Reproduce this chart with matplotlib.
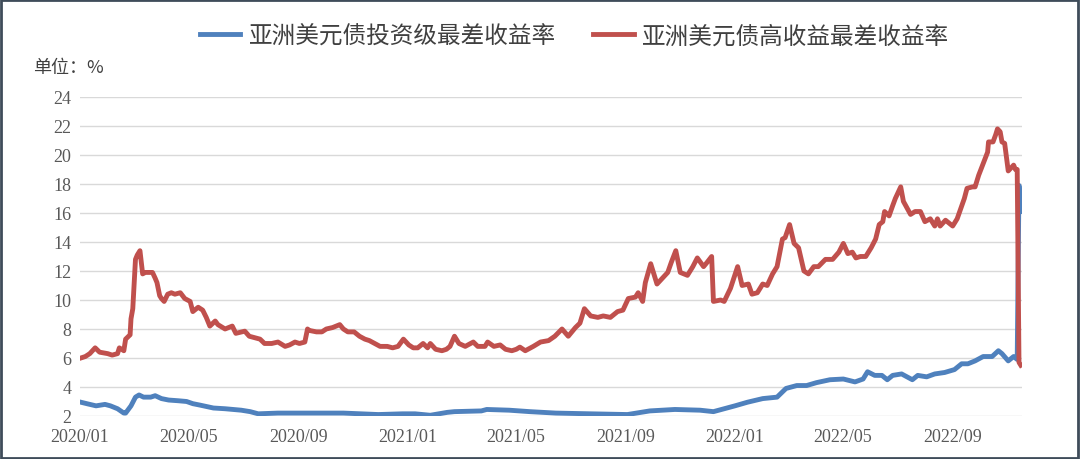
import matplotlib
matplotlib.use("Agg")
import matplotlib.pyplot as plt
import pandas as pd
from matplotlib.patches import Rectangle

# ---------------- data ----------------
ig_dates = ["2020-01-02", "2020-01-10", "2020-01-19", "2020-01-29", "2020-02-04", "2020-02-12",
            "2020-02-19", "2020-02-21", "2020-02-27", "2020-03-03", "2020-03-07", "2020-03-12",
            "2020-03-20", "2020-03-25", "2020-04-01", "2020-04-09", "2020-04-20", "2020-04-29",
            "2020-05-06", "2020-05-14", "2020-05-29", "2020-06-11", "2020-06-29", "2020-07-09",
            "2020-07-18", "2020-08-09", "2020-09-08", "2020-09-14", "2020-10-21", "2020-11-29",
            "2020-12-26", "2021-01-09", "2021-01-26", "2021-02-14", "2021-02-22", "2021-03-24",
            "2021-03-30", "2021-04-24", "2021-05-17", "2021-06-15", "2021-07-24", "2021-09-03",
            "2021-09-28", "2021-10-26", "2021-11-23", "2021-12-08", "2022-01-01", "2022-01-15",
            "2022-02-01", "2022-02-17", "2022-02-27", "2022-03-11", "2022-03-22", "2022-04-02",
            "2022-04-17", "2022-05-02", "2022-05-15", "2022-05-24", "2022-05-29", "2022-06-06",
            "2022-06-14", "2022-06-20", "2022-06-26", "2022-07-06", "2022-07-18", "2022-07-24",
            "2022-08-03", "2022-08-12", "2022-08-23", "2022-09-03", "2022-09-11", "2022-09-18",
            "2022-09-26", "2022-10-05", "2022-10-15", "2022-10-22", "2022-10-26", "2022-11-02",
            "2022-11-08", "2022-11-12", "2022-11-14", "2022-11-16"]
ig_values = [2.95, 2.83, 2.70, 2.80, 2.70, 2.50,
             2.20, 2.20, 2.70, 3.30, 3.45, 3.30,
             3.30, 3.40, 3.20, 3.10, 3.05, 3.00,
             2.85, 2.75, 2.55, 2.50, 2.40, 2.30,
             2.15, 2.20, 2.20, 2.20, 2.20, 2.10,
             2.15, 2.15, 2.05, 2.25, 2.30, 2.35,
             2.45, 2.40, 2.30, 2.20, 2.15, 2.10,
             2.35, 2.45, 2.40, 2.30, 2.70, 2.95,
             3.20, 3.30, 3.90, 4.10, 4.10, 4.30,
             4.50, 4.55, 4.35, 4.55, 5.05, 4.80,
             4.80, 4.50, 4.80, 4.90, 4.50, 4.80,
             4.70, 4.90, 5.00, 5.20, 5.60, 5.60,
             5.80, 6.10, 6.10, 6.50, 6.30, 5.80,
             6.10, 5.90, 17.90, 16.10]

hy_dates = ["2020-01-02", "2020-01-07", "2020-01-12", "2020-01-18", "2020-01-23", "2020-02-01",
            "2020-02-06", "2020-02-12", "2020-02-14", "2020-02-19", "2020-02-21", "2020-02-26",
            "2020-02-27", "2020-02-29", "2020-03-03", "2020-03-05", "2020-03-08", "2020-03-11",
            "2020-03-14", "2020-03-18", "2020-03-22", "2020-03-25", "2020-03-27", "2020-03-30",
            "2020-04-01", "2020-04-04", "2020-04-08", "2020-04-12", "2020-04-16", "2020-04-22",
            "2020-04-27", "2020-05-03", "2020-05-06", "2020-05-12", "2020-05-17", "2020-05-21",
            "2020-05-25", "2020-05-31", "2020-06-03", "2020-06-11", "2020-06-19", "2020-06-23",
            "2020-07-03", "2020-07-08", "2020-07-14", "2020-07-20", "2020-07-25", "2020-08-02",
            "2020-08-09", "2020-08-17", "2020-08-22", "2020-08-28", "2020-09-02", "2020-09-08",
            "2020-09-11", "2020-09-13", "2020-09-21", "2020-09-27", "2020-10-02", "2020-10-09",
            "2020-10-17", "2020-10-21", "2020-10-26", "2020-11-02", "2020-11-08", "2020-11-14",
            "2020-11-19", "2020-11-25", "2020-12-01", "2020-12-09", "2020-12-15", "2020-12-21",
            "2020-12-27", "2021-01-02", "2021-01-07", "2021-01-12", "2021-01-18", "2021-01-23",
            "2021-01-26", "2021-02-01", "2021-02-08", "2021-02-13", "2021-02-17", "2021-02-22",
            "2021-02-27", "2021-03-06", "2021-03-15", "2021-03-20", "2021-03-28", "2021-03-31",
            "2021-04-07", "2021-04-14", "2021-04-20", "2021-04-27", "2021-05-02", "2021-05-06",
            "2021-05-12", "2021-05-21", "2021-05-29", "2021-06-07", "2021-06-14", "2021-06-22",
            "2021-06-29", "2021-07-07", "2021-07-12", "2021-07-17", "2021-07-24", "2021-08-01",
            "2021-08-07", "2021-08-15", "2021-08-23", "2021-08-29", "2021-09-04", "2021-09-12",
            "2021-09-15", "2021-09-20", "2021-09-23", "2021-09-29", "2021-10-06", "2021-10-12",
            "2021-10-18", "2021-10-22", "2021-10-27", "2021-11-01", "2021-11-09", "2021-11-15",
            "2021-11-20", "2021-11-27", "2021-12-01", "2021-12-06", "2021-12-08", "2021-12-16",
            "2021-12-20", "2021-12-27", "2022-01-04", "2022-01-09", "2022-01-16", "2022-01-20",
            "2022-01-26", "2022-02-01", "2022-02-06", "2022-02-12", "2022-02-17", "2022-02-23",
            "2022-02-26", "2022-03-03", "2022-03-08", "2022-03-13", "2022-03-19", "2022-03-24",
            "2022-03-30", "2022-04-04", "2022-04-12", "2022-04-20", "2022-04-27", "2022-05-02",
            "2022-05-07", "2022-05-12", "2022-05-16", "2022-05-21", "2022-05-27", "2022-06-02",
            "2022-06-07", "2022-06-11", "2022-06-15", "2022-06-17", "2022-06-22", "2022-06-26",
            "2022-06-29", "2022-07-05", "2022-07-08", "2022-07-16", "2022-07-21", "2022-07-27",
            "2022-08-01", "2022-08-07", "2022-08-12", "2022-08-15", "2022-08-18", "2022-08-24",
            "2022-09-01", "2022-09-06", "2022-09-10", "2022-09-14", "2022-09-17", "2022-09-23",
            "2022-09-26", "2022-09-30", "2022-10-05", "2022-10-10", "2022-10-11", "2022-10-16",
            "2022-10-19", "2022-10-21", "2022-10-24", "2022-10-26", "2022-10-29", "2022-11-02",
            "2022-11-08", "2022-11-10", "2022-11-12", "2022-11-14", "2022-11-16"]
hy_values = [6.00, 6.10, 6.30, 6.70, 6.40, 6.30,
             6.20, 6.30, 6.70, 6.50, 7.30, 7.60,
             8.70, 9.40, 12.80, 13.10, 13.40, 11.80,
             11.90, 11.90, 11.90, 11.50, 11.20, 10.30,
             10.10, 9.90, 10.40, 10.50, 10.40, 10.50,
             10.10, 9.90, 9.20, 9.50, 9.30, 8.80,
             8.20, 8.55, 8.30, 8.00, 8.20, 7.70,
             7.85, 7.50, 7.40, 7.30, 7.00, 7.00,
             7.10, 6.80, 6.90, 7.10, 7.00, 7.10,
             8.00, 7.90, 7.80, 7.80, 8.00, 8.10,
             8.30, 8.00, 7.80, 7.80, 7.50, 7.30,
             7.20, 7.00, 6.80, 6.80, 6.70, 6.80,
             7.30, 6.90, 6.70, 6.70, 7.00, 6.70,
             7.00, 6.60, 6.50, 6.60, 6.80, 7.50,
             7.00, 6.80, 7.10, 6.80, 6.80, 7.10,
             6.80, 6.90, 6.60, 6.50, 6.60, 6.75,
             6.50, 6.80, 7.10, 7.20, 7.50, 8.00,
             7.50, 8.10, 8.40, 9.40, 8.90, 8.80,
             8.90, 8.80, 9.20, 9.30, 10.10, 10.20,
             10.50, 9.90, 11.20, 12.50, 11.10, 11.50,
             11.90, 12.60, 13.40, 11.90, 11.70, 12.30,
             12.90, 12.30, 12.60, 13.00, 9.90, 10.00,
             9.90, 10.80, 12.30, 11.00, 11.10, 10.40,
             10.50, 11.10, 11.00, 11.80, 12.30, 14.20,
             14.30, 15.20, 13.90, 13.60, 12.00, 11.80,
             12.30, 12.30, 12.80, 12.80, 13.30, 13.90,
             13.20, 13.30, 12.90, 13.00, 13.00, 13.60,
             14.20, 15.20, 15.40, 16.10, 15.80, 16.50,
             17.00, 17.80, 16.80, 15.90, 16.10, 16.10,
             15.40, 15.60, 15.10, 15.60, 15.10, 15.50,
             15.10, 15.60, 16.30, 17.00, 17.70, 17.80,
             17.80, 18.60, 19.40, 20.20, 20.90, 20.90,
             21.40, 21.80, 21.60, 20.90, 20.80, 18.90,
             19.30, 19.00, 19.00, 5.70, 5.50]

series_names = ["亚洲美元债投资级最差收益率", "亚洲美元债高收益最差收益率"]
unit_label = "单位：%"
y_ticks = [2, 4, 6, 8, 10, 12, 14, 16, 18, 20, 22, 24]
x_tick_labels = ["2020/01", "2020/05", "2020/09", "2021/01", "2021/05",
                 "2021/09", "2022/01", "2022/05", "2022/09"]

# ---------------- plot ----------------
plt.rcParams['font.family'] = ['Noto Sans CJK SC', 'DejaVu Sans']

fig = plt.figure(figsize=(10.8, 4.6), dpi=100)
ax = fig.add_axes([0.074, 0.0935, 0.872, 0.6935])

ig_x = pd.to_datetime(ig_dates)
hy_x = pd.to_datetime(hy_dates)

blue = "#4F81BD"
red = "#C0504D"
ax.plot(ig_x, ig_values, color=blue, lw=3.5, label=series_names[0], solid_joinstyle="round")
ax.plot(hy_x, hy_values, color=red, lw=3.5, label=series_names[1], solid_joinstyle="round")

ax.set_ylim(2, 24)
ax.set_yticks(y_ticks)
ax.set_xlim(pd.Timestamp("2020-01-01"), pd.Timestamp("2022-11-17"))
ax.set_xticks(pd.to_datetime([s.replace("/", "-") + "-01" for s in x_tick_labels]))
ax.set_xticklabels(x_tick_labels)

ax.grid(axis="y", color="#D9D9D9", lw=1.0)
ax.set_axisbelow(True)
for sp in ax.spines.values():
    sp.set_visible(False)
ax.tick_params(axis="both", length=0, labelsize=13, colors="#595959")
ax.tick_params(axis="x", pad=9)
ax.tick_params(axis="y", pad=6)
for lab in ax.get_xticklabels() + ax.get_yticklabels():
    lab.set_fontfamily(["Liberation Serif", "DejaVu Serif"])

fig.text(0.031, 0.852, unit_label, fontsize=13, color="#404040", va="center", ha="left")

leg = fig.legend(loc="center", bbox_to_anchor=(0.532, 0.92), ncol=2, frameon=False,
                 fontsize=17, handlelength=1.7, handletextpad=0.35, columnspacing=1.6)
for t in leg.get_texts():
    t.set_color("#404040")

fig.patches.append(Rectangle((0.001, 0.002), 0.997, 0.996, transform=fig.transFigure,
                             fill=False, edgecolor="#3F4C5A", lw=2.0))

fig.savefig("out.png", dpi=100)
